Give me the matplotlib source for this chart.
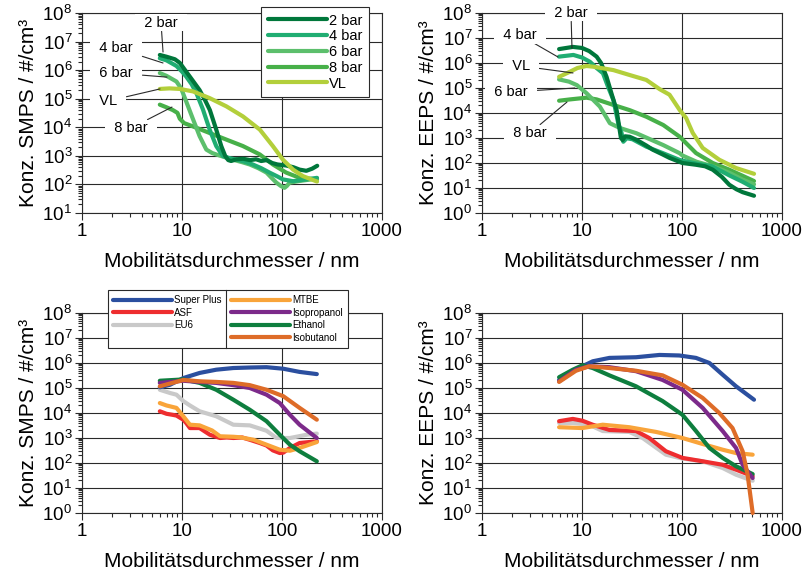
import numpy as np
import matplotlib
matplotlib.use("Agg")
import matplotlib.pyplot as plt
from matplotlib.ticker import LogLocator, FuncFormatter, NullFormatter
from matplotlib.lines import Line2D

plt.rcParams['font.family'] = ['Liberation Sans', 'DejaVu Sans']
plt.rcParams['mathtext.fontset'] = 'custom'
plt.rcParams['mathtext.rm'] = 'Liberation Sans'

# ---------------- data: SMPS, pressure series (top-left) ----------------
smps_2bar_x = [6.0, 7.0, 8.5, 9.5, 11.0, 13, 15, 17, 19, 22, 24.7, 27, 29, 31, 35, 41, 48, 55, 62, 70, 80, 90, 110, 130, 150, 175, 200, 225]
smps_2bar_y = [3.4e6, 2.95e6, 2.4e6, 1.8e6, 8.9e5, 4.0e5, 2.0e5, 8.9e4, 4.0e4, 8.3e3, 2.2e3, 1.0e3, 710, 660, 760, 790, 710, 760, 660, 710, 560, 500, 460, 400, 330, 300, 355, 450]
smps_4bar_x = [6.0, 7, 8.8, 10, 11, 12.5, 13.9, 16.2, 18.9, 22, 25.7, 30, 35, 42, 51, 62, 75, 90, 102, 129, 175, 224]
smps_4bar_y = [2.6e6, 2.2e6, 1.4e6, 8.9e5, 6.0e5, 3.2e5, 1.6e5, 4.2e4, 8.3e3, 2.2e3, 980, 830, 740, 630, 500, 370, 260, 190, 150, 130, 150, 170]
smps_6bar_x = [6.0, 7, 8.8, 9.8, 11, 12.9, 15, 17.5, 20, 22, 27, 32, 40, 47.5, 58, 70, 80, 88, 97, 106, 112, 119, 150, 224]
smps_6bar_y = [7.9e5, 6.3e5, 4.0e5, 2.3e5, 8.1e4, 1.9e4, 4.9e3, 1.66e3, 1.26e3, 1.12e3, 890, 740, 600, 500, 370, 260, 160, 115, 89, 76, 89, 115, 132, 160]
smps_8bar_x = [6.0, 7, 8.1, 9.0, 9.5, 10.5, 12.9, 18.9, 27.8, 40.7, 60, 81, 110, 150, 224]
smps_8bar_y = [6.2e4, 5.0e4, 4.0e4, 3.2e4, 2.0e4, 1.4e4, 1.07e4, 6.3e3, 3.7e3, 2.2e3, 1.12e3, 500, 260, 170, 150]
smps_vl_x = [6.0, 7.5, 9.5, 12.9, 18.9, 27.8, 40.7, 60, 81, 102, 129, 162, 224]
smps_vl_y = [2.2e5, 2.3e5, 2.2e5, 1.8e5, 1.05e5, 5.4e4, 2.4e4, 8.3e3, 2.2e3, 740, 330, 195, 126]

# ---------------- data: EEPS, pressure series (top-right) ----------------
eeps_2bar_x = [5.9, 8.1, 10, 11.8, 14, 15.5, 17.6, 20, 22.2, 24.5, 25.5, 27, 30, 35, 44, 51, 64, 75, 101, 138, 170, 203, 250, 297, 350, 404, 525]
eeps_2bar_y = [3.6e6, 4.4e6, 4.0e6, 3.0e6, 1.8e6, 1.0e6, 2.8e5, 5.0e4, 1.3e4, 1.0e3, 830, 1.17e3, 1.12e3, 850, 500, 340, 220, 160, 100, 85, 74, 54, 28, 13.5, 8.9, 6.8, 4.9]
eeps_4bar_x = [5.9, 8.2, 10, 12, 14, 16.2, 18, 20.6, 23, 24.9, 25.9, 28, 32, 44, 64, 95, 130, 200, 297, 400, 525]
eeps_4bar_y = [1.8e6, 2.1e6, 1.66e6, 1.12e6, 6.3e5, 3.9e5, 1.26e5, 3.3e4, 4.0e3, 1.55e3, 710, 980, 890, 450, 250, 132, 100, 74, 32, 18, 10]
eeps_6bar_x = [5.9, 7.4, 8.9, 11.1, 15.1, 19, 24, 35, 65, 95, 101, 140, 203, 300, 400, 525]
eeps_6bar_y = [2.2e5, 1.8e5, 1.3e5, 6.2e4, 1.8e4, 3.9e3, 2.5e3, 1.55e3, 520, 245, 200, 112, 74, 40, 22, 14]
eeps_8bar_x = [5.9, 7.6, 11.1, 14, 20.6, 30, 44, 65, 95, 138, 203, 297, 525]
eeps_8bar_y = [3.1e4, 3.5e4, 4.1e4, 3.5e4, 2.1e4, 1.3e4, 7.1e3, 3.3e3, 1.12e3, 250, 100, 54, 19]
eeps_vl_x = [5.9, 7.6, 9, 11.1, 13, 20.6, 30, 44, 60, 75, 95, 110, 128, 161, 236, 347, 525]
eeps_vl_y = [2.8e5, 4.5e5, 6.3e5, 7.6e5, 7.1e5, 5.2e5, 3.3e5, 2.1e5, 8.9e4, 5.4e4, 1.3e4, 6.3e3, 1.6e3, 400, 135, 63, 37]

# ---------------- data: SMPS, fuels (bottom-left) ----------------
smps_sp_x = [6.0, 7.6, 10.3, 15, 22, 32.6, 47.6, 70, 103, 150, 223]
smps_sp_y = [1.07e5, 1.35e5, 2.5e5, 4.0e5, 5.4e5, 6.3e5, 6.6e5, 6.8e5, 5.9e5, 4.4e5, 3.6e5]
smps_asf_x = [6.0, 7, 8, 8.8, 10.3, 11, 12, 15, 17, 19, 24, 28, 32.6, 40, 47.6, 60, 70, 81, 95, 103, 120, 150, 223]
smps_asf_y = [1.17e4, 9.3e3, 8.5e3, 7.9e3, 5.4e3, 4.0e3, 2.5e3, 2.5e3, 1.8e3, 1.35e3, 1.0e3, 1.05e3, 1.0e3, 1.05e3, 850, 630, 500, 320, 250, 260, 400, 630, 740]
smps_eu6_x = [6.0, 7.6, 8.8, 10.3, 12, 15, 22, 32.6, 47.6, 70, 88, 120, 177, 223]
smps_eu6_y = [8.5e4, 6.3e4, 5.4e4, 3.0e4, 2.0e4, 1.17e4, 7.4e3, 3.4e3, 3.2e3, 1.95e3, 1.0e3, 1.0e3, 1.35e3, 1.5e3]
smps_mtbe_x = [6.0, 7, 8.8, 10.3, 12, 15, 20, 24, 32.6, 38, 52, 70, 95, 120, 150, 223]
smps_mtbe_y = [2.5e4, 2.0e4, 1.6e4, 7.4e3, 3.4e3, 3.2e3, 2.0e3, 1.17e3, 1.12e3, 1.07e3, 850, 540, 340, 310, 400, 690]
smps_iprop_x = [6.0, 10.3, 15, 22, 32.6, 47.6, 70, 95, 120, 150, 223]
smps_iprop_y = [1.6e5, 1.95e5, 1.75e5, 1.6e5, 1.3e5, 1.0e5, 5.4e4, 2.5e4, 8.5e3, 3.4e3, 1.0e3]
smps_eth_x = [6.0, 10.3, 15, 22, 32.6, 47.6, 70, 95, 120, 150, 223]
smps_eth_y = [1.95e5, 2.2e5, 1.6e5, 8.5e4, 3.4e4, 1.35e4, 4.7e3, 1.35e3, 540, 295, 117]
smps_ibut_x = [6.0, 10.3, 15, 22, 32.6, 47.6, 70, 103, 150, 223]
smps_ibut_y = [1.17e5, 2.1e5, 1.85e5, 1.75e5, 1.6e5, 1.3e5, 8.5e4, 4.7e4, 1.6e4, 5.4e3]

# ---------------- data: EEPS, fuels (bottom-right) ----------------
eeps_sp_x = [5.9, 7.5, 10.1, 12.8, 18.8, 34.7, 59.5, 94, 138, 188, 255, 347, 525]
eeps_sp_y = [2.1e5, 4.0e5, 7.4e5, 1.17e6, 1.6e6, 1.7e6, 2.1e6, 2.0e6, 1.6e6, 1.0e6, 3.4e5, 1.17e5, 3.4e4]
eeps_asf_x = [5.9, 8.1, 10.1, 12.8, 18.8, 34.7, 47, 69, 101, 161, 255, 347, 509]
eeps_asf_y = [4.7e3, 5.8e3, 4.9e3, 3.4e3, 2.1e3, 1.9e3, 1.0e3, 295, 160, 117, 85, 54, 30]
eeps_eu6_x = [5.9, 8.1, 11.8, 16.1, 29.7, 40.4, 69, 101, 161, 255, 347, 509]
eeps_eu6_y = [4.0e3, 4.0e3, 3.4e3, 1.9e3, 1.75e3, 1.0e3, 215, 150, 117, 63, 34, 19.5]
eeps_mtbe_x = [5.9, 10.1, 16.1, 29.7, 55, 101, 161, 255, 347, 509]
eeps_mtbe_y = [2.7e3, 2.5e3, 3.4e3, 2.7e3, 1.75e3, 1.0e3, 575, 340, 250, 215]
eeps_iprop_x = [5.9, 8.7, 11.8, 18.8, 34.7, 64, 101, 161, 255, 347, 404, 509]
eeps_iprop_y = [1.85e5, 5.4e5, 7.4e5, 6.8e5, 4.7e5, 2.1e5, 8.5e4, 1.6e4, 1.9e3, 400, 85, 25]
eeps_eth_x = [5.9, 8.1, 10.1, 12.8, 18.8, 34.7, 64, 101, 138, 188, 255, 347, 509]
eeps_eth_y = [2.7e5, 5.4e5, 8.1e5, 6.3e5, 3.2e5, 1.17e5, 3.0e4, 8.5e3, 1.9e3, 400, 160, 74, 36]
eeps_ibut_x = [5.9, 8.7, 11.8, 18.8, 34.7, 64, 101, 161, 236, 320, 404, 453, 509]
eeps_ibut_y = [1.75e5, 4.9e5, 7.4e5, 6.3e5, 4.9e5, 3.2e5, 1.35e5, 4.0e4, 1.0e4, 2.5e3, 295, 34, 1.0]

bar_labels = ['2 bar', '4 bar', '6 bar', '8 bar', 'VL']
fuel_labels = ['Super Plus', 'ASF', 'EU6', 'MTBE', 'Isopropanol', 'Ethanol', 'Isobutanol']
x_label = 'Mobilitätsdurchmesser / nm'
y_label_smps = 'Konz. SMPS / #/cm³'
y_label_eeps = 'Konz. EEPS / #/cm³'

c_bar = {'2 bar': '#00773b', '4 bar': '#20ad72', '6 bar': '#5cbf6c', '8 bar': '#47b049', 'VL': '#b3cf3b'}
c_fuel = {'Super Plus': '#2b4f9f', 'ASF': '#ee2d2f', 'EU6': '#c9c9c9', 'MTBE': '#f9a43a',
          'Isopropanol': '#7c2a8a', 'Ethanol': '#0e7e3e', 'Isobutanol': '#de6c28'}

W, H = 806, 576
fig = plt.figure(figsize=(W / 100, H / 100), dpi=100)


def rect(l, t, r, b):
    return [l / W, 1 - b / H, (r - l) / W, (b - t) / H]


EDGE = '#2a2a2a'


def style(ax, ylo, ylabel):
    ax.set_xscale('log')
    ax.set_yscale('log')
    ax.set_xlim(1, 1000)
    ax.set_ylim(ylo, 1e8)
    ax.xaxis.set_major_locator(LogLocator(base=10, numticks=20))
    ax.xaxis.set_minor_locator(LogLocator(base=10, subs=np.arange(2, 10), numticks=40))
    ax.yaxis.set_major_locator(LogLocator(base=10, numticks=20))
    ax.yaxis.set_minor_locator(LogLocator(base=10, subs=np.arange(2, 10), numticks=40))
    ax.xaxis.set_major_formatter(FuncFormatter(lambda v, p: f'{v:g}'))
    ax.xaxis.set_minor_formatter(NullFormatter())
    ax.yaxis.set_minor_formatter(NullFormatter())
    ax.grid(True, which='major', color=EDGE, lw=0.8)
    for s in ax.spines.values():
        s.set_color(EDGE)
        s.set_linewidth(0.8)
    ax.tick_params(which='both', direction='out', color=EDGE, width=0.8, labelsize=13.5, pad=2)
    ax.tick_params(which='major', length=5)
    ax.tick_params(which='minor', length=3)
    ax.set_xlabel(x_label, fontsize=15, labelpad=9)
    ax.set_ylabel(ylabel, fontsize=15, labelpad=3)


LW = 3.0
kw = dict(lw=LW, solid_joinstyle='round', solid_capstyle='round')

# ---- top-left ----
ax1 = fig.add_axes(rect(82, 13, 382, 213))
style(ax1, 10, y_label_smps)
tl = {'2 bar': (smps_2bar_x, smps_2bar_y), '4 bar': (smps_4bar_x, smps_4bar_y),
      '6 bar': (smps_6bar_x, smps_6bar_y), '8 bar': (smps_8bar_x, smps_8bar_y),
      'VL': (smps_vl_x, smps_vl_y)}
h1 = {}
for lab in ['8 bar', '6 bar', '4 bar', '2 bar', 'VL']:
    xs, ys = tl[lab]
    h1[lab], = ax1.plot(xs, ys, color=c_bar[lab], zorder=3, **kw)
leg1 = ax1.legend([h1[l] for l in bar_labels], bar_labels, loc='upper left',
                  bbox_to_anchor=(261 / W, 1 - 7 / H), bbox_transform=fig.transFigure,
                  fontsize=10.5, handlelength=4.1, handletextpad=0.1, labelspacing=0.12,
                  borderpad=0.45, borderaxespad=0, fancybox=False, framealpha=1,
                  edgecolor=EDGE)
leg1.get_frame().set_linewidth(0.8)
leg1.set_zorder(10)

tbox = dict(boxstyle='square,pad=0.1', fc='white', ec='none')
aprops = dict(arrowstyle='-', lw=0.8, color=EDGE, shrinkA=0, shrinkB=0)
ann_tl = [('2 bar', (6.17, 4.5e7), (6.46, 4.3e6)),
          ('4 bar', (2.19, 6.0e6), (6.46, 1.78e6)),
          ('6 bar', (2.19, 7.9e5), (7.08, 5.7e5)),
          ('VL', (1.82, 8.3e4), (6.03, 2.2e5)),
          ('8 bar', (3.09, 9.4e3), (7.94, 5.1e4))]
for t, xt, xy in ann_tl:
    ax1.annotate('  ' + t + '  ', xy=xy, xytext=xt, ha='center', va='center', fontsize=10.5,
                 bbox=tbox, arrowprops=aprops, zorder=5)

# ---- top-right ----
ax2 = fig.add_axes(rect(482, 13, 782, 213))
style(ax2, 1, y_label_eeps)
tr = {'2 bar': (eeps_2bar_x, eeps_2bar_y), '4 bar': (eeps_4bar_x, eeps_4bar_y),
      '6 bar': (eeps_6bar_x, eeps_6bar_y), '8 bar': (eeps_8bar_x, eeps_8bar_y),
      'VL': (eeps_vl_x, eeps_vl_y)}
for lab in ['8 bar', '6 bar', '4 bar', '2 bar', 'VL']:
    xs, ys = tr[lab]
    ax2.plot(xs, ys, color=c_bar[lab], zorder=3, **kw)
ann_tr = [('2 bar', (7.76, 1.0e8), (7.94, 4.0e6)),
          ('4 bar', (2.4, 1.3e7), (5.75, 1.74e6)),
          ('VL', (2.45, 7.6e5), (8.13, 4.0e5)),
          ('6 bar', (1.95, 6.9e4), (8.5, 1.0e5)),
          ('8 bar', (3.02, 1.58e3), (7.08, 2.75e4))]
for t, xt, xy in ann_tr:
    ax2.annotate('  ' + t + '  ', xy=xy, xytext=xt, ha='center', va='center', fontsize=10.5,
                 bbox=tbox, arrowprops=aprops, zorder=5, annotation_clip=False)

# ---- bottom-left ----
ax3 = fig.add_axes(rect(82, 313, 382, 513))
style(ax3, 1, y_label_smps)
bl = {'Super Plus': (smps_sp_x, smps_sp_y), 'ASF': (smps_asf_x, smps_asf_y),
      'EU6': (smps_eu6_x, smps_eu6_y), 'MTBE': (smps_mtbe_x, smps_mtbe_y),
      'Isopropanol': (smps_iprop_x, smps_iprop_y), 'Ethanol': (smps_eth_x, smps_eth_y),
      'Isobutanol': (smps_ibut_x, smps_ibut_y)}
h3 = {}
for lab in ['EU6', 'ASF', 'MTBE', 'Super Plus', 'Ethanol', 'Isopropanol', 'Isobutanol']:
    xs, ys = bl[lab]
    h3[lab], = ax3.plot(xs, ys, color=c_fuel[lab], zorder=3, **kw)
blank = Line2D([], [], color='none')
handles = [h3[l] for l in fuel_labels[:3]] + [blank] + [h3[l] for l in fuel_labels[3:]]
labels = fuel_labels[:3] + [''] + fuel_labels[3:]
leg3 = ax3.legend(handles, labels, ncol=2, loc='upper left',
                  bbox_to_anchor=(108 / W, 1 - 290 / H), bbox_transform=fig.transFigure,
                  fontsize=7, handlelength=6.0, handletextpad=0.25, labelspacing=0.25,
                  columnspacing=1.0, borderpad=0.55, borderaxespad=0, fancybox=False,
                  framealpha=1, edgecolor=EDGE)
leg3.get_frame().set_linewidth(0.8)
leg3.set_zorder(10)

# ---- bottom-right ----
ax4 = fig.add_axes(rect(482, 313, 782, 513))
style(ax4, 1, y_label_eeps)
br = {'Super Plus': (eeps_sp_x, eeps_sp_y), 'ASF': (eeps_asf_x, eeps_asf_y),
      'EU6': (eeps_eu6_x, eeps_eu6_y), 'MTBE': (eeps_mtbe_x, eeps_mtbe_y),
      'Isopropanol': (eeps_iprop_x, eeps_iprop_y), 'Ethanol': (eeps_eth_x, eeps_eth_y),
      'Isobutanol': (eeps_ibut_x, eeps_ibut_y)}
for lab in ['EU6', 'ASF', 'MTBE', 'Super Plus', 'Ethanol', 'Isopropanol', 'Isobutanol']:
    xs, ys = br[lab]
    ax4.plot(xs, ys, color=c_fuel[lab], zorder=3, clip_on=False, **kw)

# divider line in the two-column legend
fig.canvas.draw()
r = fig.canvas.get_renderer()
lb = leg3.get_window_extent(r)
col1_right = max(t.get_window_extent(r).x1 for t in leg3.get_texts()[:3])
col2_left = min(t.get_window_extent(r).x0 for t in leg3.get_texts()[4:])
hl = (leg3.handlelength + leg3.handletextpad) * leg3._fontsize * fig.dpi / 72
xd = (col1_right + (col2_left - hl)) / 2
fig.add_artist(Line2D([xd / W, xd / W], [lb.y0 / H, lb.y1 / H], transform=fig.transFigure,
                      color=EDGE, lw=0.8, zorder=20))

fig.savefig('out.png', dpi=100)
